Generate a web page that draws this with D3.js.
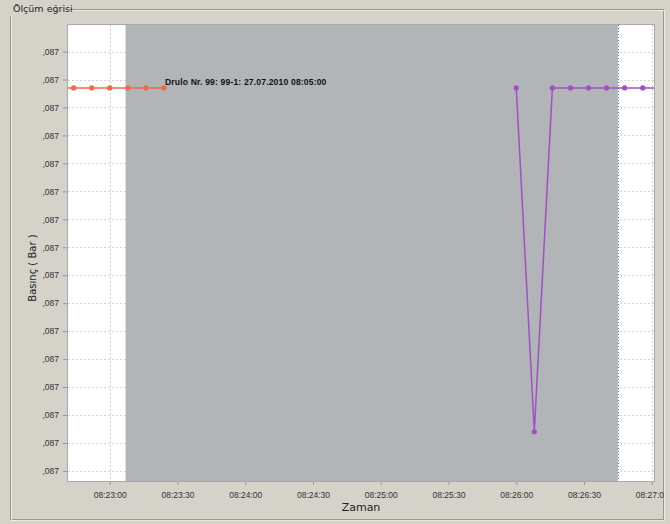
<!DOCTYPE html>
<html>
<head>
<meta charset="utf-8">
<script src="https://cdn.jsdelivr.net/npm/d3@7/dist/d3.min.js"></script>
<style>
  html, body { margin: 0; padding: 0; background: #d5d2ca; }
  svg { display: block; font-family: "DejaVu Sans", "Liberation Sans", sans-serif; }
</style>
</head>
<body>
<svg id="chart" width="670" height="524"></svg>
<script>
// Pressure readings (bar) of two measurement records, 8 s sampling
const seriesATimes = ["08:22:36", "08:22:44", "08:22:52", "08:23:00", "08:23:08", "08:23:16", "08:23:24"];
const seriesAValues = [0.087137, 0.087137, 0.087137, 0.087137, 0.087137, 0.087137, 0.087137];
const seriesBTimes = ["08:26:00", "08:26:08", "08:26:16", "08:26:24", "08:26:32", "08:26:40", "08:26:48", "08:26:56", "08:27:04"];
const seriesBValues = [0.087137, 0.087014, 0.087137, 0.087137, 0.087137, 0.087137, 0.087137, 0.087137, 0.087137];
// Idle interval between the records
const gapRange = ["08:23:07", "08:26:45"];
// Axis ticks
const xTickTimes = ["08:23:00", "08:23:30", "08:24:00", "08:24:30", "08:25:00", "08:25:30", "08:26:00", "08:26:30", "08:27:00"];
const yTickValues = [0.08700, 0.08701, 0.08702, 0.08703, 0.08704, 0.08705, 0.08706, 0.08707,
                     0.08708, 0.08709, 0.08710, 0.08711, 0.08712, 0.08713, 0.08714, 0.08715];
const yTickLabels = [",087", ",087", ",087", ",087", ",087", ",087", ",087", ",087",
                     ",087", ",087", ",087", ",087", ",087", ",087", ",087", ",087"];
const recordLabel = "Drulo Nr. 99: 99-1: 27.07.2010 08:05:00";

const parse = d3.timeParse("%H:%M:%S");
const svg = d3.select("#chart");

// Group box frame
svg.append("rect").attr("x", 10.5).attr("y", 9.5).attr("width", 653).attr("height", 510)
  .attr("fill", "none").attr("stroke", "#9a978f");
svg.append("rect").attr("x", 11.5).attr("y", 10.5).attr("width", 653).attr("height", 510)
  .attr("fill", "none").attr("stroke", "#f2f0ea").attr("stroke-opacity", 0.8);
svg.append("rect").attr("x", 8).attr("y", 2).attr("width", 62).attr("height", 14).attr("fill", "#d5d2ca");
svg.append("text").attr("x", 13).attr("y", 12).attr("font-size", 9.5).attr("fill", "#222")
  .text("Ölçüm eğrisi");

const plot = { left: 68, top: 25, right: 654, bottom: 481 };
// time axis starts at 08:22:41.5
const x = d3.scaleTime()
  .domain([new Date(parse("08:22:41").getTime() + 500), parse("08:27:01")])
  .range([plot.left, plot.right]);

const y = d3.scaleLinear().domain([0.0869964, 0.0871595]).range([plot.bottom, plot.top]);

const defs = svg.append("defs");
defs.append("clipPath").attr("id", "clip")
  .append("rect").attr("x", plot.left).attr("y", plot.top)
  .attr("width", plot.right - plot.left).attr("height", plot.bottom - plot.top);
defs.append("clipPath").attr("id", "frameClip")
  .append("rect").attr("x", 0).attr("y", 0).attr("width", 664).attr("height", 524);

// Plot background
svg.append("rect").attr("x", plot.left).attr("y", plot.top)
  .attr("width", plot.right - plot.left).attr("height", plot.bottom - plot.top)
  .attr("fill", "#ffffff");

// Grid
const grid = svg.append("g").attr("clip-path", "url(#clip)");
grid.selectAll(".hg").data(yTickValues).join("line")
  .attr("x1", plot.left).attr("x2", plot.right)
  .attr("y1", d => Math.round(y(d)) + 0.5).attr("y2", d => Math.round(y(d)) + 0.5)
  .attr("stroke", "#d2d2d2").attr("stroke-dasharray", "2,2");
grid.selectAll(".vg").data(xTickTimes).join("line")
  .attr("y1", plot.top).attr("y2", plot.bottom)
  .attr("x1", d => Math.round(x(parse(d))) + 0.5).attr("x2", d => Math.round(x(parse(d))) + 0.5)
  .attr("stroke", "#d2d2d2").attr("stroke-dasharray", "2,2");

// Idle interval shading
const g0 = x(parse(gapRange[0])), g1 = x(parse(gapRange[1]));
svg.append("rect").attr("x", g0).attr("y", plot.top)
  .attr("width", g1 - g0).attr("height", plot.bottom - plot.top)
  .attr("fill", "#b2b5b7");
svg.append("line").attr("x1", Math.round(g1) + 0.5).attr("x2", Math.round(g1) + 0.5)
  .attr("y1", plot.top).attr("y2", plot.bottom)
  .attr("stroke", "#6a6ad0").attr("stroke-dasharray", "1,2");

// Plot border
svg.append("rect").attr("x", plot.left - 0.5).attr("y", plot.top - 0.5)
  .attr("width", plot.right - plot.left + 1).attr("height", plot.bottom - plot.top + 1)
  .attr("fill", "none").attr("stroke", "#a8a8a8");

// Axes
const yAxis = d3.axisLeft(y).tickValues(yTickValues)
  .tickFormat((d, i) => yTickLabels[i]).tickSize(4).tickPadding(4);
const ya = svg.append("g").attr("transform", `translate(${plot.left - 1},0)`).call(yAxis);
ya.select(".domain").remove();
ya.selectAll("line").attr("stroke", "#999");
ya.selectAll("text").attr("font-size", 8.5).attr("fill", "#333");

const xAxis = d3.axisBottom(x).tickValues(xTickTimes.map(parse))
  .tickFormat(d3.timeFormat("%H:%M:%S")).tickSize(3).tickPadding(7);
const xa = svg.append("g").attr("clip-path", "url(#frameClip)")
  .append("g").attr("transform", `translate(0,${plot.bottom + 1})`).call(xAxis);
xa.select(".domain").remove();
xa.selectAll("line").attr("stroke", "#999");
xa.selectAll("text").attr("font-size", 8.5).attr("fill", "#333");

svg.append("text").attr("x", 361).attr("y", 511).attr("text-anchor", "middle")
  .attr("font-size", 11).attr("fill", "#222").text("Zaman");
svg.append("text").attr("transform", "translate(36,268) rotate(-90)").attr("text-anchor", "middle")
  .attr("font-size", 10).attr("fill", "#222").text("Basınç ( Bar )");

// Series
const line = d3.line().x(d => x(d.t)).y(d => y(d.v));
const series = [
  { color: "#ec6a4c", data: seriesATimes.map((t, i) => ({ t: parse(t), v: seriesAValues[i] })) },
  { color: "#a24fc6", data: seriesBTimes.map((t, i) => ({ t: parse(t), v: seriesBValues[i] })) }
];
const sg = svg.append("g").attr("clip-path", "url(#clip)");
series.forEach(s => {
  sg.append("path").datum(s.data).attr("d", line)
    .attr("fill", "none").attr("stroke", s.color).attr("stroke-width", 1.5);
  sg.selectAll(null).data(s.data).join("circle")
    .attr("cx", d => x(d.t)).attr("cy", d => y(d.v)).attr("r", 2.6)
    .attr("fill", s.color);
});

// Record label at end of first series
const last = series[0].data[series[0].data.length - 1];
svg.append("text").attr("x", x(last.t) + 1).attr("y", y(last.v) - 3)
  .attr("font-family", "'Liberation Sans', Arial, sans-serif")
  .attr("font-size", 8.6).attr("font-weight", "bold").attr("letter-spacing", 0.15).attr("fill", "#111")
  .text(recordLabel);
</script>
</body>
</html>
